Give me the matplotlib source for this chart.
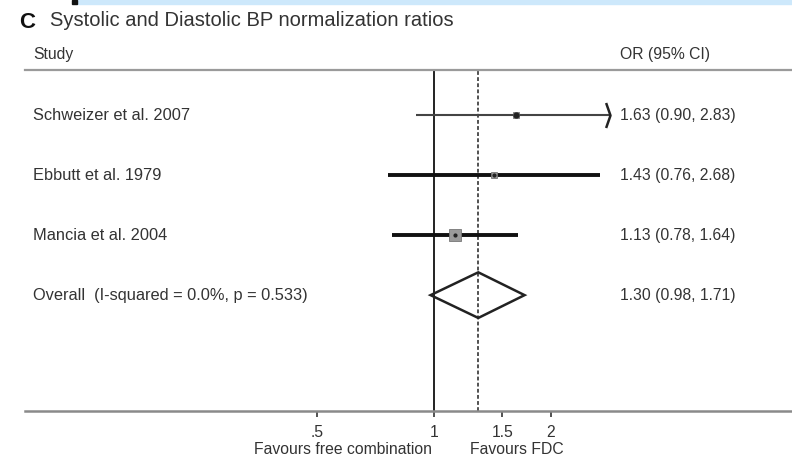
import numpy as np
import matplotlib
matplotlib.use("Agg")
import matplotlib.pyplot as plt
from matplotlib.path import Path
from matplotlib.patches import Polygon, Rectangle

# Study-level odds ratios with 95% confidence intervals
studies = ["Schweizer et al. 2007", "Ebbutt et al. 1979", "Mancia et al. 2004"]
or_est = [1.63, 1.43, 1.13]
ci_low = [0.90, 0.76, 0.78]
ci_high = [2.83, 2.68, 1.64]
weight_size = [5, 5, 9]          # marker box sizes (points)

pooled_label = "Overall  (I-squared = 0.0%, p = 0.533)"
pooled_est = 1.30
pooled_low = 0.98
pooled_high = 1.71

tick_vals = [0.5, 1, 1.5, 2]
tick_text = [".5", "1", "1.5", "2"]

W, H = 792, 458
fig = plt.figure(figsize=(W / 100, H / 100), dpi=100)
fig.patch.set_facecolor("white")

FS = 11.3
FS_LAB = 11.8
TXT = "#333333"

# thin strip along the top edge
fig.patches.append(Rectangle((78 / W, 1 - 4 / H), 1, 4 / H, transform=fig.transFigure,
                             color="#cde8fb", zorder=0))
fig.patches.append(Rectangle((72 / W, 1 - 4 / H), 5 / W, 4 / H, transform=fig.transFigure,
                             color="#111111", zorder=0))

px_left, px_right = 25, 792
px_top, px_bottom = 70, 411
ax = fig.add_axes([px_left / W, 1 - px_bottom / H, (px_right - px_left) / W,
                   (px_bottom - px_top) / H])

# log-scale x: 1 at pixel 434, 168.8 px per natural-log unit
scale = 168.8
x0 = np.exp((px_left - 434) / scale)
x1 = np.exp((px_right - 434) / scale)
ax.set_xscale("log")
ax.set_xlim(x0, x1)
ax.set_ylim(5.93, 0.25)

for s in ["left", "right"]:
    ax.spines[s].set_visible(False)
ax.spines["top"].set_color("#9a9a9a")
ax.spines["top"].set_linewidth(1.6)
ax.spines["bottom"].set_color("#8a8a8a")
ax.spines["bottom"].set_linewidth(1.8)

ax.set_yticks([])
ax.set_xticks(tick_vals)
ax.set_xticklabels(tick_text)
ax.xaxis.set_minor_locator(matplotlib.ticker.NullLocator())
ax.tick_params(axis="x", direction="out", length=4, width=1.2, color="#333333",
               labelsize=FS, labelcolor=TXT, pad=6)
for lbl in ax.get_xticklabels():
    lbl.set_fontfamily("Liberation Sans")

# reference lines
ax.axvline(1.0, color="#222222", lw=1.4, zorder=2)
ax.axvline(pooled_est, color="#222222", lw=1.1, ls=(0, (2.5, 1.5)), zorder=2)

rows = [1, 2, 3]
font = dict(family="Liberation Sans", color=TXT)
tx_lab = (33 - px_left) / (px_right - px_left)
tx_or = (620 - px_left) / (px_right - px_left)
ytr = ax.get_yaxis_transform()

arrow_path = Path([(-0.35, 1.0), (0.0, 0.0), (-0.35, -1.0)],
                  [Path.MOVETO, Path.LINETO, Path.LINETO])

for i, y in enumerate(rows):
    lw = 1.5 if i == 0 else 2.8
    col = "#444444" if i == 0 else "#111111"
    ax.plot([ci_low[i], ci_high[i]], [y, y], color=col, lw=lw, solid_capstyle="butt", zorder=3)
    if i == 0:
        ax.plot([ci_high[i]], [y], marker=arrow_path, markersize=18, mfc="none",
                mec="#222222", mew=1.8, zorder=4)
    ax.plot([or_est[i]], [y], marker="s", markersize=weight_size[i],
            color="#9a9a9a", mec="#777777", mew=0.6, zorder=4)
    ax.plot([or_est[i]], [y], marker="o", markersize=3.5 if i == 0 else 2,
            color="#222222", zorder=5)
    ax.text(tx_lab, y, studies[i], transform=ytr, ha="left", va="center", fontsize=FS_LAB, **font)
    ax.text(tx_or, y, f"{or_est[i]:.2f} ({ci_low[i]:.2f}, {ci_high[i]:.2f})",
            transform=ytr, ha="left", va="center", fontsize=FS, **font)

# pooled estimate diamond
yp = 4
h = 0.38
diamond = Polygon([(pooled_low, yp), (pooled_est, yp - h), (pooled_high, yp), (pooled_est, yp + h)],
                  closed=True, fill=False, edgecolor="#222222", lw=1.8, zorder=4)
ax.add_patch(diamond)
ax.text(tx_lab, yp, pooled_label, transform=ytr, ha="left", va="center", fontsize=FS_LAB, **font)
ax.text(tx_or, yp, f"{pooled_est:.2f} ({pooled_low:.2f}, {pooled_high:.2f})",
        transform=ytr, ha="left", va="center", fontsize=FS, **font)

# headers
fig.text(19 / W, 1 - 22 / H, "C", fontsize=16, fontweight="bold", va="center", ha="left",
         family="Liberation Sans", color="#111111")
fig.text(50 / W, 1 - 21 / H, "Systolic and Diastolic BP normalization ratios", fontsize=14.5,
         va="center", ha="left", family="Liberation Sans", color=TXT)
fig.text(33 / W, 1 - 55 / H, "Study", fontsize=FS, va="center", ha="left", **font)
fig.text(620 / W, 1 - 55 / H, "OR (95% CI)", fontsize=FS, va="center", ha="left", **font)

# direction labels under the axis
fig.text(432 / W, 1 - 449 / H, "Favours free combination", fontsize=FS, va="center", ha="right", **font)
fig.text(470 / W, 1 - 449 / H, "Favours FDC", fontsize=FS, va="center", ha="left", **font)

fig.savefig("out.png", dpi=100)
